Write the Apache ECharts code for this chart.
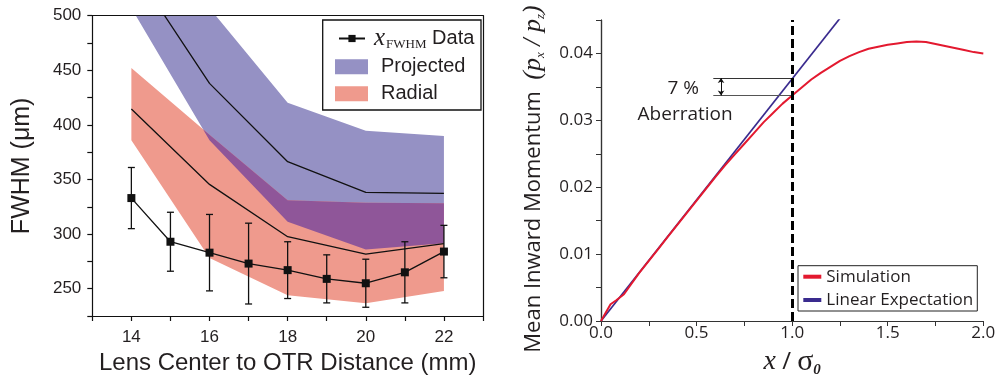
<!DOCTYPE html>
<html><head><meta charset="utf-8">
<script src="https://cdn.jsdelivr.net/npm/echarts@6/dist/echarts.min.js"></script>
<style>html,body{margin:0;padding:0;background:#fff}#c{width:995px;height:379px}</style>
</head><body><div id="c"></div>
<script>
// ---- Left panel data ----
const distance = [14, 15, 16, 17, 18, 19, 20, 21, 22];
const fwhmData = [333, 293, 283, 273, 267, 259, 255, 265, 284];
const fwhmErr = [28, 27, 35, 37, 26, 22, 22, 28, 24];
const bandX = [14, 16, 18, 20, 22];
const projectedCenter = [546, 438, 366.3, 338.2, 337.3];
const projectedUpper = [600, 507, 420.3, 394.7, 389.8];
const projectedLower = [507, 386, 311.4, 286, 291.6];
const radialCenter = [414.5, 345.5, 297.6, 281.7, 291.2];
const radialUpper = [452, 391, 331, 328.8, 328.2];
const radialLower = [386, 278, 244, 236.6, 248];
const fwhmTickLabels = [250, 300, 350, 400, 450, 500];
const distTickLabels = [14, 16, 18, 20, 22];
// ---- Right panel data ----
const simX = [0, 0.02, 0.05, 0.08, 0.12, 0.15, 0.2, 0.25, 0.3, 0.35, 0.4, 0.45, 0.5, 0.55, 0.6, 0.65, 0.7, 0.75, 0.8, 0.85, 0.9, 0.95, 1.0, 1.05, 1.1, 1.15, 1.2, 1.25, 1.3, 1.35, 1.4, 1.45, 1.5, 1.55, 1.6, 1.65, 1.7, 1.75, 1.8, 1.85, 1.9, 1.95, 2.0];
const simY = [0, 0.0010, 0.0025, 0.0031, 0.0040, 0.0052, 0.0072, 0.0090, 0.0108, 0.0126, 0.0144, 0.0162, 0.0180, 0.0198, 0.0216, 0.0233, 0.0249, 0.0265, 0.0281, 0.0297, 0.0311, 0.0325, 0.0337, 0.0349, 0.0361, 0.0371, 0.0380, 0.0389, 0.0396, 0.0402, 0.0407, 0.0410, 0.0413, 0.0415, 0.0417, 0.0418, 0.0417, 0.0414, 0.0411, 0.0408, 0.0405, 0.0402, 0.0400];
const linearX = [0, 1.25];
const linearY = [0, 0.04525];
const momTickLabels = [0, 0.01, 0.02, 0.03, 0.04];
const ratioTickLabels = [0, 0.5, 1.0, 1.5, 2.0];
const aberration = { x0: 0.5875, x1: 1.0, arrowX: 0.628, yLinear: 0.03632, ySim: 0.03373 };

// derived: intersection of the two bands
function crossing() {
  const d0 = radialUpper[0] - projectedLower[0], d1 = radialUpper[1] - projectedLower[1];
  const t = -d0 / (d1 - d0);
  return { x: bandX[0] + t * (bandX[1] - bandX[0]), y: radialUpper[0] + t * (radialUpper[1] - radialUpper[0]) };
}
const cr = crossing();
const ovX = [cr.x].concat(bandX.slice(1));
const ovLow = [cr.y].concat(projectedLower.slice(1));
const ovHigh = [cr.y].concat(radialUpper.slice(1));

const pairs = (xs, ys) => xs.map((x, i) => [x, ys[i]]);

const C_PROJ = '#9591c4', C_RAD = '#ef9a8d', C_OV = '#8f5699';
const INK = '#231f20';
const LF = 'Liberation Sans', RF = 'Open Sans', SERIF = 'Liberation Serif';

function bandSeries(name, xs, lo, hi, color, z) {
  return {
    type: 'custom', name: name, coordinateSystem: 'cartesian2d', xAxisIndex: 0, yAxisIndex: 0,
    silent: true, z: z, clip: true, color: color,
    data: xs.map((x, i) => [x, lo[i], hi[i]]),
    encode: { x: 0, y: [1, 2] },
    renderItem: function (params, api) {
      if (params.dataIndex !== 0) return null;
      const pts = [];
      for (let i = 0; i < xs.length; i++) pts.push(api.coord([xs[i], hi[i]]));
      for (let i = xs.length - 1; i >= 0; i--) pts.push(api.coord([xs[i], lo[i]]));
      const cs = params.coordSys;
      return { type: 'group', clipPath: { type: 'rect', shape: { x: cs.x, y: cs.y, width: cs.width, height: cs.height } },
        children: [{ type: 'polygon', shape: { points: pts }, style: { fill: color, stroke: null } }] };
    }
  };
}

const chart = echarts.init(document.getElementById('c'), null, { renderer: 'canvas' });

const option = {
  animation: false,
  backgroundColor: '#fff',
  grid: [
    { left: 92.3, top: 15.7, width: 390.7, height: 300.3, outerBoundsMode: 'none', containLabel: false },
    { left: 601, top: 20, width: 382.3, height: 301, outerBoundsMode: 'none', containLabel: false }
  ],
  xAxis: [
    { type: 'value', gridIndex: 0, min: 13, max: 23, interval: 1,
      axisLine: { show: true, lineStyle: { color: '#111', width: 1.2 } },
      axisTick: { show: true, inside: false, length: 5, lineStyle: { color: '#111', width: 1.2 } },
      axisLabel: { margin: 13, fontSize: 17, fontFamily: LF, color: INK,
        formatter: v => distTickLabels.indexOf(v) >= 0 ? String(v) : '' },
      splitLine: { show: false },
      name: 'Lens Center to OTR Distance (mm)', nameLocation: 'middle', nameGap: 34,
      nameTextStyle: { fontSize: 24, fontFamily: LF, color: INK } },
    { type: 'value', gridIndex: 0, position: 'top', min: 13, max: 23, interval: 1,
      axisLine: { show: true, lineStyle: { color: '#111', width: 1.2 } },
      axisTick: { show: false }, axisLabel: { show: false }, splitLine: { show: false } },
    { type: 'value', gridIndex: 1, min: 0, max: 2, interval: 0.25,
      axisLine: { show: true, lineStyle: { color: '#333', width: 1.2 } },
      axisTick: { show: true, inside: false, length: 5, lineStyle: { color: '#333', width: 1 } },
      axisLabel: { margin: 4, fontSize: 17, fontFamily: RF, color: INK,
        formatter: v => ratioTickLabels.some(t => Math.abs(t - v) < 1e-9) ? v.toFixed(1) : '' },
      splitLine: { show: false },
      name: '{x|x}{s| / }{g|σ}{z|0}', nameLocation: 'middle', nameGap: 22,
      nameTextStyle: { color: INK, rich: {
        x: { fontFamily: SERIF, fontStyle: 'italic', fontSize: 28, color: INK },
        s: { fontFamily: RF, fontSize: 24, color: INK },
        g: { fontFamily: SERIF, fontSize: 30, color: INK },
        z: { fontFamily: SERIF, fontStyle: 'italic', fontWeight: 'bold', fontSize: 15, color: INK, padding: [16, 0, 0, 0] }
      } } },
    { type: 'value', gridIndex: 1, position: 'top', min: 0, max: 2, interval: 0.25,
      axisLine: { show: true, lineStyle: { color: '#333', width: 1.2 } },
      axisTick: { show: true, inside: true, length: 4, lineStyle: { color: '#333', width: 1 } },
      axisLabel: { show: false }, splitLine: { show: false } }
  ],
  yAxis: [
    { type: 'value', gridIndex: 0, min: 225, max: 500, interval: 25,
      axisLine: { show: true, lineStyle: { color: '#111', width: 1.2 } },
      axisTick: { show: true, inside: false, length: 5, lineStyle: { color: '#111', width: 1.2 } },
      axisLabel: { margin: 11, fontSize: 17, fontFamily: LF, color: INK,
        formatter: v => fwhmTickLabels.indexOf(v) >= 0 ? String(v) : '' },
      splitLine: { show: false },
      name: 'FWHM (μm)', nameLocation: 'middle', nameRotate: 90, nameGap: 58,
      nameTextStyle: { fontSize: 25, fontFamily: LF, color: INK } },
    { type: 'value', gridIndex: 0, position: 'right', min: 225, max: 500, interval: 25,
      axisLine: { show: true, lineStyle: { color: '#111', width: 1.2 } },
      axisTick: { show: false }, axisLabel: { show: false }, splitLine: { show: false } },
    { type: 'value', gridIndex: 1, min: 0, max: 0.045, interval: 0.005,
      axisLine: { show: true, lineStyle: { color: '#333', width: 1.2 } },
      axisTick: { show: true, inside: false, length: 5, lineStyle: { color: '#333', width: 1 } },
      axisLabel: { margin: 8, fontSize: 17, fontFamily: RF, color: INK,
        formatter: v => momTickLabels.some(t => Math.abs(t - v) < 1e-9) ? v.toFixed(2) : '' },
      splitLine: { show: false },
      name: '{m|Mean Inward Momentum}{m|  }{p|(p}{s|x}{p| / p}{s|z}{p|)}', nameLocation: 'middle', nameRotate: 90, nameGap: 54,
      nameTextStyle: { color: INK, padding: [0, 17, 0, 0], rich: {
        m: { fontFamily: RF, fontSize: 22, color: INK },
        p: { fontFamily: SERIF, fontStyle: 'italic', fontSize: 26, color: INK },
        s: { fontFamily: SERIF, fontStyle: 'italic', fontSize: 13, color: INK, padding: [14, 0, 0, 0] }
      } } },
    { type: 'value', gridIndex: 1, position: 'right', min: 0, max: 0.045, interval: 0.005,
      axisLine: { show: true, lineStyle: { color: '#333', width: 1.2 } },
      axisTick: { show: true, inside: true, length: 4, lineStyle: { color: '#333', width: 1 } },
      axisLabel: { show: false }, splitLine: { show: false } }
  ],
  legend: [
    { data: ['Data'], orient: 'vertical', left: 338, top: 26, padding: 0, itemWidth: 26, itemHeight: 9,
      selectedMode: false,
      formatter: () => '{x|x}{s|FWHM}{d| Data}',
      textStyle: { color: INK, padding: [0, 0, 0, 4], rich: {
        x: { fontFamily: SERIF, fontStyle: 'italic', fontSize: 25, color: INK },
        s: { fontFamily: SERIF, fontSize: 13, color: INK, padding: [13, 0, 0, 1] },
        d: { fontFamily: LF, fontSize: 20, color: INK }
      } } },
    { data: [{ name: 'Projected', icon: 'rect', itemStyle: { color: C_PROJ, borderWidth: 0 } },
             { name: 'Radial', icon: 'rect', itemStyle: { color: C_RAD, borderWidth: 0 } }],
      orient: 'vertical', left: 335, top: 56.7, padding: 0, itemWidth: 33, itemHeight: 15, itemGap: 7,
      icon: 'rect', selectedMode: false,
      textStyle: { fontFamily: LF, fontSize: 20, lineHeight: 20, color: INK, padding: [0, 0, 0, 8] } },
    { data: ['Simulation', 'Linear Expectation'], orient: 'vertical', left: 803.3, top: 266.7, padding: 0,
      itemWidth: 18, itemHeight: 4, itemGap: 3.3, icon: 'rect', selectedMode: false,
      textStyle: { fontFamily: RF, fontSize: 17, lineHeight: 20, color: INK } }
  ],
  graphic: [
    { type: 'rect', shape: { x: 322.7, y: 20, width: 158.3, height: 90 },
      style: { fill: 'none', stroke: '#111', lineWidth: 1.3 }, z: 100 },
    { type: 'rect', shape: { x: 798, y: 265.7, width: 179.3, height: 45.3 },
      style: { fill: 'none', stroke: '#222', lineWidth: 1 }, z: 100 }
  ],
  series: [
    bandSeries('Projected', bandX, projectedLower, projectedUpper, C_PROJ, 1),
    bandSeries('Radial', bandX, radialLower, radialUpper, C_RAD, 1),
    bandSeries('Overlap', ovX, ovLow, ovHigh, C_OV, 2),
    { type: 'line', name: 'projCenter', data: pairs(bandX, projectedCenter), symbol: 'none', silent: true,
      lineStyle: { color: '#111', width: 1.3 }, z: 3, xAxisIndex: 0, yAxisIndex: 0 },
    { type: 'line', name: 'radCenter', data: pairs(bandX, radialCenter), symbol: 'none', silent: true,
      lineStyle: { color: '#111', width: 1.3 }, z: 3, xAxisIndex: 0, yAxisIndex: 0 },
    { type: 'custom', name: 'err', xAxisIndex: 0, yAxisIndex: 0, z: 4, silent: true,
      data: distance.map((d, i) => [d, fwhmData[i] - fwhmErr[i], fwhmData[i] + fwhmErr[i]]),
      encode: { x: 0, y: [1, 2] },
      renderItem: function (params, api) {
        const x = api.value(0);
        const lo = api.coord([x, api.value(1)]);
        const hi = api.coord([x, api.value(2)]);
        const w = 3.5, st = { stroke: '#111', lineWidth: 1.3 };
        return { type: 'group', children: [
          { type: 'line', shape: { x1: lo[0], y1: lo[1], x2: hi[0], y2: hi[1] }, style: st },
          { type: 'line', shape: { x1: lo[0] - w, y1: lo[1], x2: lo[0] + w, y2: lo[1] }, style: st },
          { type: 'line', shape: { x1: hi[0] - w, y1: hi[1], x2: hi[0] + w, y2: hi[1] }, style: st }
        ] };
      } },
    { type: 'line', name: 'Data', data: pairs(distance, fwhmData), symbol: 'rect', symbolSize: 8, silent: true,
      color: '#111', itemStyle: { color: '#111' }, lineStyle: { color: '#111', width: 1.3 }, z: 5,
      xAxisIndex: 0, yAxisIndex: 0 },
    // right panel
    { type: 'line', name: 'Linear Expectation', data: pairs(linearX, linearY), symbol: 'none', silent: true,
      color: '#3a2b8e', lineStyle: { color: '#3a2b8e', width: 1.7 }, z: 3, xAxisIndex: 2, yAxisIndex: 2,
      markLine: { silent: true, symbol: 'none', animation: false, label: { show: false },
        data: [
          [{ coord: [aberration.x0, aberration.yLinear], lineStyle: { color: '#333', width: 1, type: 'solid' } },
           { coord: [aberration.x1, aberration.yLinear] }],
          [{ coord: [aberration.x0, aberration.ySim], lineStyle: { color: '#555', width: 1, type: 'solid' } },
           { coord: [aberration.x1, aberration.ySim] }],
          [{ coord: [aberration.arrowX, aberration.ySim], symbol: 'arrow', symbolSize: [5, 5], lineStyle: { color: '#111', width: 1, type: 'solid' } },
           { coord: [aberration.arrowX, aberration.yLinear], symbol: 'arrow', symbolSize: [5, 5] }]
        ] },
      markPoint: { silent: true, symbol: 'circle', symbolSize: 1, itemStyle: { color: 'rgba(0,0,0,0)' },
        label: { show: true, position: 'inside', fontFamily: RF, fontSize: 19, color: INK },
        data: [
          { coord: [0.43, 0.03473], label: { formatter: '7 %' } },
          { coord: [0.44, 0.03086], label: { formatter: 'Aberration' } }
        ] } },
    { type: 'line', name: 'Simulation', data: pairs(simX, simY), symbol: 'none', silent: true,
      color: '#e3192f', lineStyle: { color: '#e3192f', width: 2 }, z: 4, xAxisIndex: 2, yAxisIndex: 2,
      markLine: { silent: true, symbol: 'none', animation: false, label: { show: false },
        lineStyle: { color: '#000', width: 3, type: [9, 4] },
        data: [{ xAxis: 1.0 }] } }
  ]
};
chart.setOption(option);
</script></body></html>
